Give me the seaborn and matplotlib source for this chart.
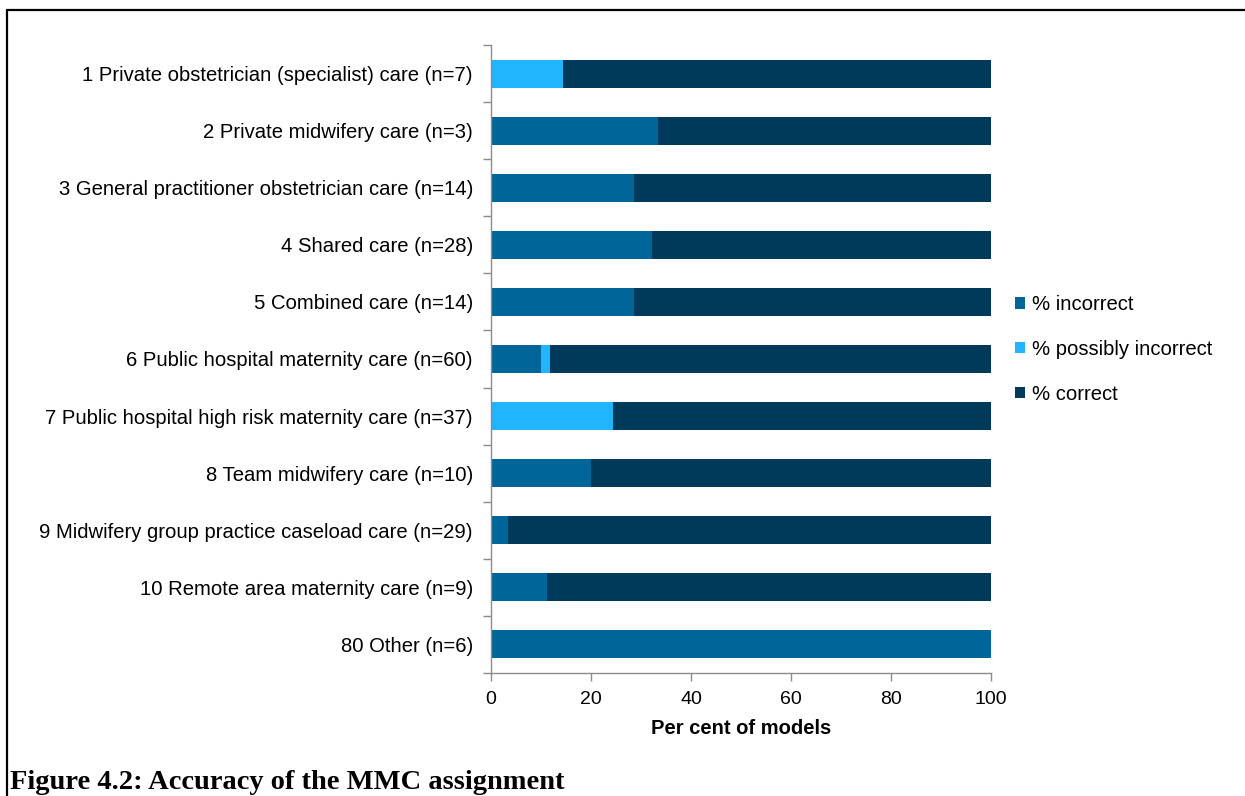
import matplotlib
matplotlib.use("Agg")
import matplotlib.pyplot as plt
import seaborn as sns
import pandas as pd
import numpy as np
from matplotlib.patches import Patch
from matplotlib.lines import Line2D

categories = [
    "1 Private obstetrician (specialist) care (n=7)",
    "2 Private midwifery care (n=3)",
    "3 General practitioner obstetrician care (n=14)",
    "4 Shared care (n=28)",
    "5 Combined care (n=14)",
    "6 Public hospital maternity care (n=60)",
    "7 Public hospital high risk maternity care (n=37)",
    "8 Team midwifery care (n=10)",
    "9 Midwifery group practice caseload care (n=29)",
    "10 Remote area maternity care (n=9)",
    "80 Other (n=6)",
]
pct_incorrect = [0.0, 33.3, 28.6, 32.1, 28.6, 10.0, 0.0, 20.0, 3.4, 11.1, 100.0]
pct_possibly = [14.3, 0.0, 0.0, 0.0, 0.0, 1.7, 24.3, 0.0, 0.0, 0.0, 0.0]
pct_correct = [85.7, 66.7, 71.4, 67.9, 71.4, 88.3, 75.7, 80.0, 96.6, 88.9, 0.0]

series_names = ["% incorrect", "% possibly incorrect", "% correct"]
colors = ["#006699", "#21B5FF", "#003A5A"]

df = pd.DataFrame({
    "category": categories,
    "inc": pct_incorrect,
    "pos": pct_possibly,
    "cor": pct_correct,
})
df["cum_inc"] = df["inc"]
df["cum_pos"] = df["inc"] + df["pos"]
df["cum_cor"] = df["inc"] + df["pos"] + df["cor"]

sns.set_theme(style="white")
plt.rcParams["font.family"] = ["Liberation Sans", "DejaVu Sans"]
plt.rcParams["text.color"] = "black"
plt.rcParams["axes.labelcolor"] = "black"
plt.rcParams["xtick.color"] = "black"
plt.rcParams["ytick.color"] = "black"

fig = plt.figure(figsize=(12.45, 7.96), dpi=100)
ax = fig.add_axes([491 / 1245, 1 - 673 / 796, 500 / 1245, (673 - 45) / 796])

# stacked via overlay of cumulative totals
for col, c in [("cum_cor", colors[2]), ("cum_pos", colors[1]), ("cum_inc", colors[0])]:
    sns.barplot(data=df, x=col, y="category", order=categories, color=c,
                width=0.49, saturation=1, ax=ax, linewidth=0)

ax.set_xlim(0, 100)
ax.set_ylim(10.5, -0.5)
ax.set_xticks([0, 20, 40, 60, 80, 100])
ax.set_xlabel("Per cent of models", fontsize=14.5, fontweight="bold", labelpad=8,
              color="black")
ax.set_ylabel("")

for s in ["top", "right"]:
    ax.spines[s].set_visible(False)
for s in ["left", "bottom"]:
    ax.spines[s].set_color("#8c8c8c")
    ax.spines[s].set_linewidth(1.0)

ax.tick_params(axis="y", which="major", length=0, labelsize=14.6, pad=13, labelcolor="black")
ax.set_yticks(np.arange(-0.5, 11, 1.0), minor=True)
ax.tick_params(axis="y", which="minor", length=6, width=1, color="#8c8c8c", left=True)
ax.tick_params(axis="x", which="major", length=6, width=1, color="#8c8c8c",
               labelsize=14, pad=7, bottom=True, labelcolor="black")

handles = [Patch(facecolor=colors[i], edgecolor="none") for i in range(3)]
leg = fig.legend(handles, series_names, loc="upper left",
                 bbox_to_anchor=(1015 / 1245, 1 - 295 / 796), frameon=False,
                 fontsize=14.6, handlelength=0.5, handleheight=0.5,
                 handletextpad=0.35, labelspacing=1.27, borderpad=0, borderaxespad=0,
                 labelcolor="black")

# caption and page frame
fig.text(10 / 1245, 1 - 789 / 796, "Figure 4.2: Accuracy of the MMC assignment",
         fontsize=20.5, fontweight="bold", family=["Liberation Serif", "DejaVu Serif"],
         ha="left", va="baseline", color="black")
fig.add_artist(Line2D([7 / 1245, 7 / 1245], [0, 1 - 10 / 796], transform=fig.transFigure,
                      color="black", linewidth=1.6))
fig.add_artist(Line2D([7 / 1245, 1], [1 - 10 / 796, 1 - 10 / 796], transform=fig.transFigure,
                      color="black", linewidth=1.6))

fig.savefig("out.png", dpi=100)
